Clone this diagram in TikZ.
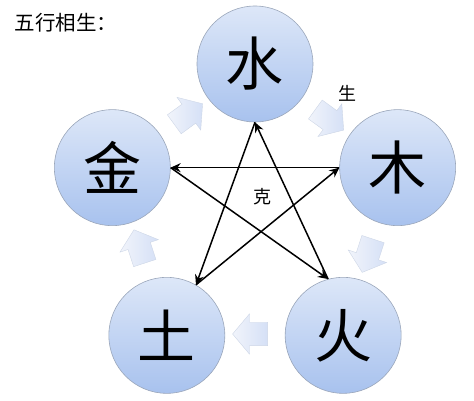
\documentclass[tikz,border=0pt]{standalone}
\usepackage{fontspec}
\setmainfont{Noto Sans CJK SC}
\usepackage{tikz}
\usetikzlibrary{arrows.meta,shapes.arrows}
\definecolor{circtop}{HTML}{DDE7F8}
\definecolor{circbot}{HTML}{A8C2EE}
\definecolor{circline}{HTML}{9AA6BA}
\definecolor{shengA}{HTML}{D5E0F6}
\definecolor{shengB}{HTML}{F1F4FB}
\definecolor{shengline}{HTML}{CDD6E6}

\begin{document}
\begin{tikzpicture}[x=1pt,y=1pt,
  element/.style={circle, draw=circline, line width=0.6pt, top color=circtop, bottom color=circbot,
    minimum size=116pt, inner sep=0pt, font=\fontsize{58}{58}\selectfont},
  sheng/.style={single arrow, draw=shengline, line width=0.4pt, left color=shengB, right color=shengA,
    minimum height=35pt, inner xsep=0pt, inner ysep=11.5pt, single arrow head extend=8.5pt,
    single arrow tip angle=100},
  ke/.style={line width=1.5pt, -{Stealth[length=10pt,width=9pt]}}]
  \useasboundingbox (-255,-187) rectangle (219,214);
  \node [anchor=west, font=\fontsize{20.5}{20.5}\selectfont] (title) at (-244,191) {五行相生：};
  % the five elements
  \node [element] (shui) at (90:150) {水};
  \node [element] (mu) at (18:150) {木};
  \node [element] (huo) at (-54:150) {火};
  \node [element] (tu) at (-126:150) {土};
  \node [element] (jin) at (162:150) {金};
  % sheng cycle
  \foreach \a/\n in {126/s1, 54/s2, -18/s3, -90/s4, -162/s5}
    \node [sheng, rotate=\a-90] (\n) at (\a:120) {};
  \node [font=\fontsize{18}{18}\selectfont] (shenglabel) at (92,121) {生};
  % ke star
  \draw [ke] (mu.west) -- (jin.east);
  \draw [ke] (jin.east) -- (huo.105);
  \draw [ke] (huo.105) -- (shui.south);
  \draw [ke] (shui.south) -- (tu.60);
  \draw [ke] (tu.60) -- (mu.west);
  \node [font=\fontsize{18}{18}\selectfont] (kelabel) at (8,17) {克};
\end{tikzpicture}
\end{document}
